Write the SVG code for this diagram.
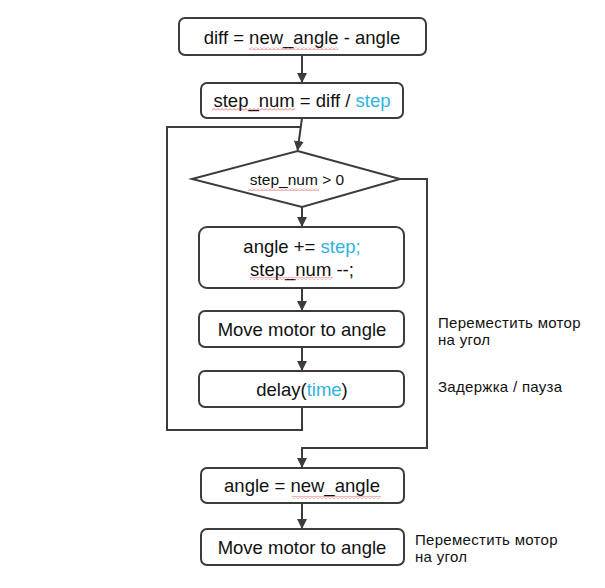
<svg xmlns="http://www.w3.org/2000/svg" width="605" height="588" viewBox="0 0 605 588">
<style>
.box{fill:#fff;stroke:#3c3c3c;stroke-width:2}
.t{font-family:"Liberation Sans",Arial,sans-serif;font-size:18.5px;fill:#111;text-anchor:middle}
.td{font-family:"Liberation Sans",Arial,sans-serif;font-size:15.5px;fill:#111;text-anchor:middle}
.b{fill:#2fb2e2}
.note{font-family:"Liberation Sans",Arial,sans-serif;font-size:15px;letter-spacing:0.3px;fill:#111}
.ln{fill:none;stroke:#3c3c3c;stroke-width:2}
.sq{fill:url(#sq)}
</style>
<defs>
<marker id="ah" viewBox="0 0 10 10" refX="9" refY="5" markerWidth="5" markerHeight="5" orient="auto" markerUnits="strokeWidth">
<path d="M0 0 L10 5 L0 10 z" fill="#3c3c3c"/>
</marker>
<pattern id="sq" width="4" height="3" patternUnits="userSpaceOnUse">
<path d="M0 2.5 L2 0.5 L4 2.5" fill="none" stroke="#e03030" stroke-width="0.7"/>
</pattern>
</defs>
<rect width="605" height="588" fill="#fff"/>
<g id="connectors">
<path class="ln" d="M302 55 V82" marker-end="url(#ah)"/>
<path class="ln" d="M302 118 L297.6 150" marker-end="url(#ah)"/>
<path class="ln" d="M302 407 V430 H167 V127 H300.6"/>
<path class="ln" d="M302 207 V226" marker-end="url(#ah)"/>
<path class="ln" d="M302 288 V310" marker-end="url(#ah)"/>
<path class="ln" d="M302 347 V370" marker-end="url(#ah)"/>
<path class="ln" d="M400 179 H427 V448 H302 V467" marker-end="url(#ah)"/>
<path class="ln" d="M302 503 V528" marker-end="url(#ah)"/>
</g>
<g id="n1">
<rect class="box" x="179" y="18" width="247" height="37" rx="6"/>
<text class="t" x="302" y="44">diff = new_angle - angle</text>
<rect class="sq" x="249" y="47" width="89" height="3"/>
</g>
<g id="n2">
<rect class="box" x="201" y="83" width="202" height="35" rx="6"/>
<text class="t" x="302" y="107">step_num = diff / <tspan class="b">step</tspan></text>
<rect class="sq" x="212" y="108" width="83" height="3"/>
</g>
<g id="n3">
<polygon class="box" points="297.6,151 400,179 302,207 192,179"/>
<text class="td" x="297" y="185">step_num &gt; 0</text>
<rect class="sq" x="248" y="188" width="71" height="3"/>
</g>
<g id="n4">
<rect class="box" x="199" y="227" width="205" height="61" rx="8"/>
<text class="t" x="302" y="253">angle += <tspan class="b">step;</tspan></text>
<text class="t" x="302" y="276">step_num --;</text>
<rect class="sq" x="250" y="277" width="83" height="3"/>
</g>
<g id="n5">
<rect class="box" x="199" y="311" width="205" height="36" rx="6"/>
<text class="t" x="302" y="336">Move motor to angle</text>
</g>
<g id="n6">
<rect class="box" x="199" y="371" width="205" height="36" rx="6"/>
<text class="t" x="302" y="396">delay(<tspan class="b">time</tspan>)</text>
</g>
<g id="n7">
<rect class="box" x="201" y="468" width="203" height="35" rx="6"/>
<text class="t" x="302" y="492">angle = new_angle</text>
<rect class="sq" x="292" y="496" width="89" height="3"/>
</g>
<g id="n8">
<rect class="box" x="201" y="529" width="203" height="36" rx="6"/>
<text class="t" x="302" y="554">Move motor to angle</text>
</g>
<g id="notes">
<text class="note" x="438" y="328">Переместить мотор</text>
<text class="note" x="438" y="345">на угол</text>
<text class="note" x="438" y="392">Задержка / пауза</text>
<text class="note" x="415" y="545">Переместить мотор</text>
<text class="note" x="415" y="562">на угол</text>
</g>
</svg>
